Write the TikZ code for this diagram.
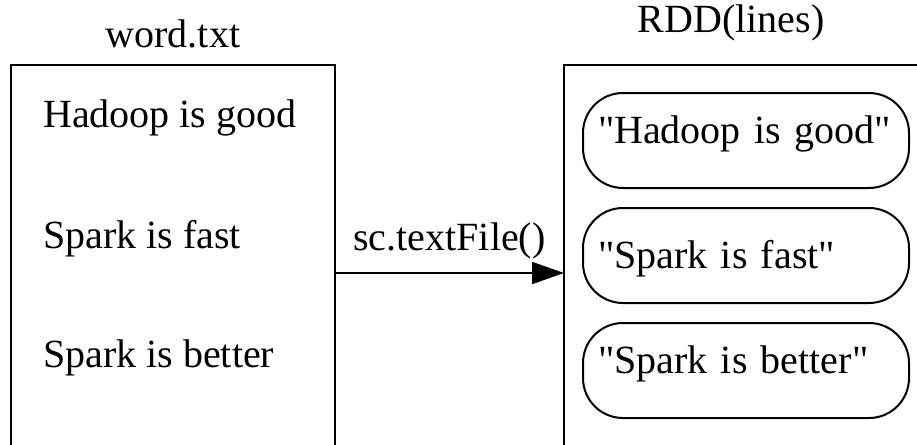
\documentclass[tikz,border=0pt]{standalone}
\usepackage{fontspec}
\setmainfont{Liberation Serif}
\usetikzlibrary{arrows.meta}
\font\rawq="Liberation Serif" at 40pt
\newcommand{\sq}{{\rawq\char34}}
\tikzset{
  txt/.style={font=\fontsize{40}{48}\selectfont, inner sep=0pt},
  openbox/.style={draw, line width=2pt, outer sep=0pt, inner sep=0pt, anchor=north west},
  item/.style={draw, line width=2pt, rounded corners=40pt, outer sep=0pt,
    minimum width=326pt, minimum height=95pt, text width=296pt, inner xsep=15pt,
    inner ysep=0pt, align=left, anchor=north west, font=\fontsize{40}{48}\selectfont},
  conn/.style={line width=2pt, -{Triangle[length=32pt,width=22pt]}}
}
\begin{document}
\begin{tikzpicture}[x=1pt,y=-1pt]
\useasboundingbox (0,0) rectangle (917,444);
\clip (0,0) rectangle (917,444);
% containers (open at the bottom / right: they run past the frame)
\node[openbox, minimum width=324pt, minimum height=450pt] (word) at (11,65) {};
\node[openbox, minimum width=420pt, minimum height=450pt] (rdd) at (564,65) {};
% titles
\node[txt, anchor=base] (wordtitle) at (173,48) {word.txt};
\node[txt, anchor=base] (rddtitle) at (731,33) {RDD(lines)};
% file lines
\node[txt, anchor=base west] (l1) at (43,127) {Hadoop is good};
\node[txt, anchor=base west] (l2) at (43,248) {Spark is fast};
\node[txt, anchor=base west] (l3) at (43,367) {Spark is better};
% RDD elements
\node[item, text height=27pt, text depth=22pt] (r1) at (583,93) {\sq Hadoop is good\sq};
\node[item, text height=30pt, text depth=5pt] (r2) at (583,208) {\sq Spark is fast\sq};
\node[item, text height=27pt, text depth=22pt] (r3) at (583,323) {\sq Spark is better\sq};
% connector
\coordinate (aout) at (word.east |- 0,273);
\coordinate (ain) at (rdd.west |- 0,273);
\draw[conn] (aout) -- node[txt, above=13pt] (alabel) {sc.textFile()} (ain);
\end{tikzpicture}
\end{document}
